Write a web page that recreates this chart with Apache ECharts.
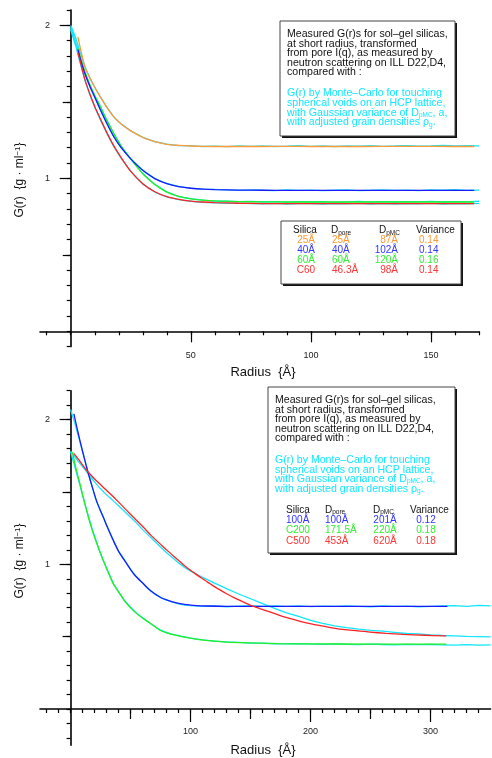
<!DOCTYPE html>
<html>
<head>
<meta charset="utf-8">
<script src="https://cdn.jsdelivr.net/npm/echarts@6/dist/echarts.min.js"></script>
<style>
html, body { margin: 0; padding: 0; background: #fff; }
#chart { width: 492px; height: 758px; }
</style>
</head>
<body>
<div id="chart"></div>
<script>
// ---- top panel : small pores ----
var topMeasR = [3,4,6,8,10,12,15,18,21,25,30,35,40,45,50,55,60,70,80,90,100,120,140,160,168];
var top25 = [1.924,1.85,1.725,1.655,1.595,1.54,1.465,1.40,1.355,1.31,1.268,1.24,1.222,1.215,1.211,1.209,1.208,1.208,1.208,1.209,1.208,1.208,1.209,1.208,1.208];
var top40 = [1.84,1.78,1.68,1.6,1.53,1.46,1.36,1.27,1.2,1.127,1.052,0.998,0.965,0.946,0.935,0.929,0.926,0.923,0.922,0.921,0.921,0.921,0.921,0.921,0.921];
var top60 = [1.85,1.79,1.69,1.61,1.54,1.48,1.38,1.29,1.21,1.125,1.03,0.96,0.91,0.882,0.866,0.857,0.852,0.848,0.846,0.845,0.845,0.845,0.845,0.845,0.845];
var topC60 = [1.82,1.76,1.64,1.55,1.47,1.40,1.30,1.21,1.135,1.045,0.965,0.912,0.88,0.862,0.851,0.845,0.841,0.837,0.835,0.834,0.834,0.834,0.834,0.834,0.834];

// Monte-Carlo (cyan) curves, top
var topMcR = [0,1,2,3,4,6,8,10,12,15,18,21,25,30,35,40,45,50,55,60,65,70,75,80,85,90,95,100,105,110,115,120,125,130,135,140,145,150,155,160,165,170];
var mc25 = [2.0,1.96,1.92,1.87,1.82,1.725,1.655,1.595,1.54,1.465,1.4,1.355,1.31,1.268,1.24,1.223,1.214,1.212,1.208,1.21,1.207,1.211,1.209,1.212,1.208,1.21,1.213,1.209,1.211,1.208,1.212,1.21,1.213,1.209,1.211,1.214,1.21,1.212,1.215,1.211,1.213,1.212];
var mc40 = [1.98,1.93,1.88,1.83,1.775,1.68,1.6,1.53,1.46,1.36,1.27,1.2,1.127,1.052,0.998,0.966,0.945,0.936,0.929,0.927,0.924,0.921,0.925,0.922,0.92,0.924,0.921,0.923,0.919,0.922,0.924,0.92,0.922,0.925,0.921,0.923,0.92,0.924,0.922,0.926,0.921,0.923];
var mc60 = [1.99,1.94,1.89,1.84,1.79,1.69,1.61,1.54,1.48,1.38,1.29,1.21,1.125,1.03,0.96,0.912,0.88,0.867,0.858,0.851,0.85,0.847,0.849,0.845,0.848,0.844,0.847,0.845,0.848,0.843,0.846,0.849,0.844,0.847,0.845,0.848,0.846,0.849,0.845,0.848,0.846,0.85];
var mcC60 = [1.97,1.92,1.87,1.81,1.75,1.635,1.545,1.465,1.395,1.295,1.205,1.13,1.045,0.962,0.91,0.878,0.86,0.85,0.843,0.84,0.836,0.838,0.835,0.833,0.836,0.832,0.835,0.834,0.831,0.835,0.833,0.836,0.832,0.834,0.831,0.835,0.833,0.836,0.832,0.835,0.833,0.836];

// ---- bottom panel : large pores ----
var bot100R = [2.75,5,7.75,10,13.3,15,18.9,22,27.2,30,35.5,40,46.7,53,60.5,67,74.4,80,88.3,95,102,115,130,160,200,250,314];
var bot100 = [2.04,1.955,1.857,1.78,1.672,1.62,1.511,1.43,1.327,1.27,1.166,1.09,1.005,0.93,0.867,0.815,0.774,0.754,0.733,0.723,0.717,0.712,0.71,0.71,0.71,0.71,0.71];
var botC200R = [1.6,4,7.75,10,13.3,16,18.9,22,27.2,31,35.5,40,46.7,53,60.5,67,74.4,80,88.3,95,102,115,130,150,174,200,250,313];
var botC200 = [1.776,1.68,1.558,1.48,1.373,1.29,1.212,1.14,1.028,0.95,0.867,0.81,0.728,0.675,0.625,0.59,0.544,0.527,0.509,0.497,0.487,0.473,0.463,0.457,0.452,0.45,0.449,0.449];
var botC500R = [2.75,8,13.3,20,25,32.75,40,46.7,53,60.5,67,74.4,80,88.3,95,102,109,116,123,130,137,143.8,150,157.8,166,174,184,193.8,207,221.7,235,249.4,263,277,295,313];
var botC500 = [1.765,1.71,1.65,1.59,1.55,1.489,1.43,1.373,1.32,1.258,1.2,1.143,1.1,1.039,0.99,0.947,0.905,0.867,0.83,0.797,0.767,0.74,0.717,0.694,0.671,0.648,0.623,0.601,0.578,0.556,0.543,0.532,0.523,0.516,0.51,0.505];

var botMcR = [0,3,6,9,12,15,18,21,24,27,30,33,36,40,45,50,55,60,65,70,75,80,85,90,95,100,110,120,130,140,150,160,170,180,190,200,210,220,230,240,250,260,270,280,290,300,310,320,330,340,350];
var mc100 = [2.07,1.99,1.9,1.81,1.72,1.625,1.535,1.45,1.385,1.33,1.27,1.215,1.16,1.09,1.03,0.965,0.912,0.87,0.828,0.795,0.77,0.752,0.738,0.727,0.718,0.714,0.709,0.712,0.707,0.711,0.714,0.709,0.712,0.71,0.713,0.708,0.711,0.709,0.713,0.71,0.707,0.712,0.709,0.711,0.707,0.71,0.712,0.714,0.71,0.716,0.713];
var mcC200 = [1.78,1.69,1.6,1.51,1.415,1.33,1.245,1.17,1.095,1.03,0.975,0.918,0.862,0.81,0.748,0.703,0.662,0.63,0.6,0.57,0.546,0.53,0.516,0.507,0.499,0.49,0.478,0.469,0.464,0.46,0.455,0.455,0.451,0.45,0.452,0.448,0.447,0.45,0.447,0.445,0.448,0.446,0.444,0.447,0.445,0.446,0.444,0.442,0.445,0.441,0.443];
var mcC500 = [1.78,1.75,1.715,1.685,1.655,1.62,1.59,1.56,1.53,1.505,1.48,1.458,1.435,1.405,1.365,1.325,1.285,1.24,1.2,1.16,1.12,1.08,1.045,1.01,0.978,0.952,0.91,0.87,0.832,0.795,0.762,0.728,0.695,0.665,0.64,0.612,0.592,0.575,0.563,0.552,0.543,0.538,0.53,0.522,0.519,0.512,0.508,0.505,0.502,0.5,0.498];

// ---- ticks ----
var topXMinor = [-10,0,10,20,30,40,50,60,70,80,90,100,110,120,130,140,150,160,170];
var topXMajor = [50,100,150];
var topYMinor = [-0.1,0,0.1,0.2,0.3,0.4,0.5,0.6,0.7,0.8,0.9,1,1.1,1.2,1.3,1.4,1.5,1.6,1.7,1.8,1.9,2,2.1];
var botXMinor = [-20,-10,0,10,20,30,40,50,60,70,80,90,100,110,120,130,140,150,160,170,180,190,200,210,220,230,240,250,260,270,280,290,300,310,320,330,340];
var botXMid = [50,150,250];
var botXMajor = [100,200,300];
var botYMinor = [-0.2,-0.1,0,0.1,0.2,0.3,0.4,0.5,0.6,0.7,0.8,0.9,1,1.1,1.2,1.3,1.4,1.5,1.6,1.7,1.8,1.9,2,2.1,2.2];
var yMid = [0.5,1.5];
var yMajor = [1,2];

// ---- legend tables ----
var topSilica = ['25Å','40Å','60Å','C60'];
var topDpore = ['25Å','40Å','60Å','46.3Å'];
var topDpmc = ['87Å','102Å','120Å','98Å'];
var topVar = ['0.14','0.14','0.16','0.14'];
var botSilica = ['100Å','C200','C500'];
var botDpore = ['100Å','171.5Å','453Å'];
var botDpmc = ['201Å','220Å','620Å'];
var botVar = ['0.12','0.18','0.18'];

var textLines = ['Measured {i|G(r)}s for sol–gel silicas,','at short radius, transformed','from pore I(q), as measured by','neutron scattering on ILL D22,D4,','compared with :'];
var mcLines = ['G(r) by Monte–Carlo for touching','spherical voids on an HCP lattice,','with Gaussian variance of {i|D}{sub|pMC}, {i|a},','with adjusted grain densities ρ{sub|g}.'];

var ORANGE = '#ff9933', BLUE = '#1a1aff', GREEN = '#22ee22', RED = '#ff2222', CYAN = '#11e6ff';
var topColors = [ORANGE, '#3333ff', '#33ee33', '#ff3333'];
var botColors = ['#3333ff', '#33ee33', '#ff3333'];
var FONT = '"Liberation Sans", Arial, sans-serif';

function pairs(xs, ys) {
  var out = [];
  for (var i = 0; i < xs.length; i++) out.push([xs[i], ys[i]]);
  return out;
}

// one axis = one set of ticks (minor / medium / major), all sitting on the other axis's zero
// (labels stay measured from the grid edge, hence the margins)
function makeAxis(dim, grid, min, max, ticks, len, labels, zeroIdx, showLine, margin) {
  return {
    type: 'value', gridIndex: grid, min: min, max: max,
    position: dim === 'x' ? 'bottom' : 'left',
    axisLine: { show: showLine, onZero: true, onZeroAxisIndex: zeroIdx, lineStyle: { color: '#000', width: 1.6 } },
    axisTick: { show: true, inside: false, length: len, customValues: ticks, lineStyle: { color: '#000', width: 1.2 } },
    axisLabel: { show: !!labels, customValues: labels || [], fontSize: 9, color: '#222', fontFamily: FONT, margin: margin || 0 },
    splitLine: { show: false },
    axisPointer: { show: false }
  };
}

var chart = echarts.init(document.getElementById('chart'));

var xAxes = [
  makeAxis('x', 0, -12.8, 170, topXMinor, 4, null, 0, true),
  makeAxis('x', 0, -12.8, 170, topXMajor, 11, topXMajor, 0, false, 4),
  makeAxis('x', 1, -25.5, 350, botXMinor, 4, null, 3, true),
  makeAxis('x', 1, -25.5, 350, botXMid, 10, null, 3, false),
  makeAxis('x', 1, -25.5, 350, botXMajor, 13, botXMajor, 3, false, -18)
];
var yAxes = [
  makeAxis('y', 0, -0.1, 2.1, topYMinor, 4, null, 0, true),
  makeAxis('y', 0, -0.1, 2.1, yMid, 8, null, 0, false),
  makeAxis('y', 0, -0.1, 2.1, yMajor, 11, yMajor, 0, false, -10),
  makeAxis('y', 1, -0.25, 2.2, botYMinor, 4, null, 2, true),
  makeAxis('y', 1, -0.25, 2.2, yMid, 8, null, 2, false),
  makeAxis('y', 1, -0.25, 2.2, yMajor, 11, yMajor, 2, false, -10)
];

function line(name, xi, yi, xs, ys, color, smooth) {
  return {
    name: name, type: 'line', xAxisIndex: xi, yAxisIndex: yi,
    data: pairs(xs, ys), showSymbol: false, symbol: 'none', smooth: smooth ? 0.3 : false,
    lineStyle: { color: color, width: 1.3 }, silent: true
  };
}

var series = [
  line('mc25', 0, 0, topMcR, mc25, CYAN),
  line('mc40', 0, 0, topMcR, mc40, CYAN),
  line('mc60', 0, 0, topMcR, mc60, CYAN),
  line('mcC60', 0, 0, topMcR, mcC60, CYAN),
  line('25Å', 0, 0, topMeasR, top25, ORANGE, true),
  line('60Å', 0, 0, topMeasR, top60, GREEN, true),
  line('40Å', 0, 0, topMeasR, top40, BLUE, true),
  line('C60', 0, 0, topMeasR, topC60, RED, true),
  line('mc100', 2, 3, botMcR, mc100, CYAN),
  line('mcC200', 2, 3, botMcR, mcC200, CYAN),
  line('mcC500', 2, 3, botMcR, mcC500, CYAN),
  line('100Å', 2, 3, bot100R, bot100, BLUE, true),
  line('C200', 2, 3, botC200R, botC200, GREEN, true),
  line('C500', 2, 3, botC500R, botC500, RED, true)
];

// ---- annotation boxes / names ----
var graphics = [];
var rich = {
  i: { fontStyle: 'italic' },
  sub: { fontSize: 6.5, lineHeight: 6, verticalAlign: 'bottom' },
  sup: { fontSize: 8, lineHeight: 8, verticalAlign: 'top' }
};
function addText(x, y, text, color, align, size, rotation) {
  graphics.push({
    type: 'text', x: x, y: y, rotation: rotation || 0, z: 100,
    style: { text: text, fill: color, fontSize: size || 10, fontFamily: FONT, align: align || 'left',
             verticalAlign: 'middle', lineHeight: 12, rich: rich }
  });
}
function addBox(x, y, w, h) {
  graphics.push({ type: 'rect', z: 99, shape: { x: x + 2, y: y + 2, width: w, height: h }, style: { fill: '#111' } });
  graphics.push({ type: 'rect', z: 99, shape: { x: x, y: y, width: w, height: h }, style: { fill: '#fff', stroke: '#444', lineWidth: 1 } });
}
function addTable(x0, xs, aligns, y0, dy, cols, colors) {
  var heads = ['Silica', 'D{sub|pore}', 'D{sub|pMC}', 'Variance'];
  for (var c = 0; c < 4; c++) addText(x0[c], y0, heads[c], '#111', 'left');
  for (var r = 0; r < cols[0].length; r++) {
    for (var k = 0; k < 4; k++) addText(xs[k], y0 + (r + 1) * dy, cols[k][r], colors[r], aligns[k]);
  }
}

// top panel box
addBox(280, 21, 175, 115);
textLines.forEach(function (t, i) { addText(287, 34 + i * 9.6, t, '#111', 'left', 10.6); });
mcLines.forEach(function (t, i) { addText(287, 93.5 + i * 9.6, t, CYAN, 'left', 10.6); });
addBox(281, 221, 180, 63);
addTable([293, 331, 379, 416], [315, 332, 398, 419], ['right', 'left', 'right', 'left'], 230.7, 9.8,
  [topSilica, topDpore, topDpmc, topVar], topColors);

// bottom panel box
addBox(268, 387, 187, 166);
textLines.forEach(function (t, i) { addText(275, 400 + i * 9.6, t, '#111', 'left', 10.6); });
mcLines.forEach(function (t, i) { addText(275, 460 + i * 9.6, t, CYAN, 'left', 10.6); });
addTable([286, 325, 373, 410], [286, 325, 385, 426], ['left', 'left', 'center', 'center'], 510, 10.3,
  [botSilica, botDpore, botDpmc, botVar], botColors);

// axis names
addText(20, 180, 'G(r)  {g · ml{sup|−1}}', '#111', 'center', 12, Math.PI / 2);
addText(20, 561, 'G(r)  {g · ml{sup|−1}}', '#111', 'center', 12, Math.PI / 2);
addText(263, 372, 'Radius  {Å}', '#111', 'center', 13);
addText(263, 750, 'Radius  {Å}', '#111', 'center', 13);

chart.setOption({
  animation: false,
  backgroundColor: '#fff',
  grid: [
    { left: 40, right: 13, top: 10, bottom: 411.4, containLabel: false, outerBoundsMode: 'none' },
    { left: 40, right: 1.4, top: 390.7, bottom: 12.8, containLabel: false, outerBoundsMode: 'none' }
  ],
  xAxis: xAxes,
  yAxis: yAxes,
  series: series,
  graphic: graphics
});
</script>
</body>
</html>
